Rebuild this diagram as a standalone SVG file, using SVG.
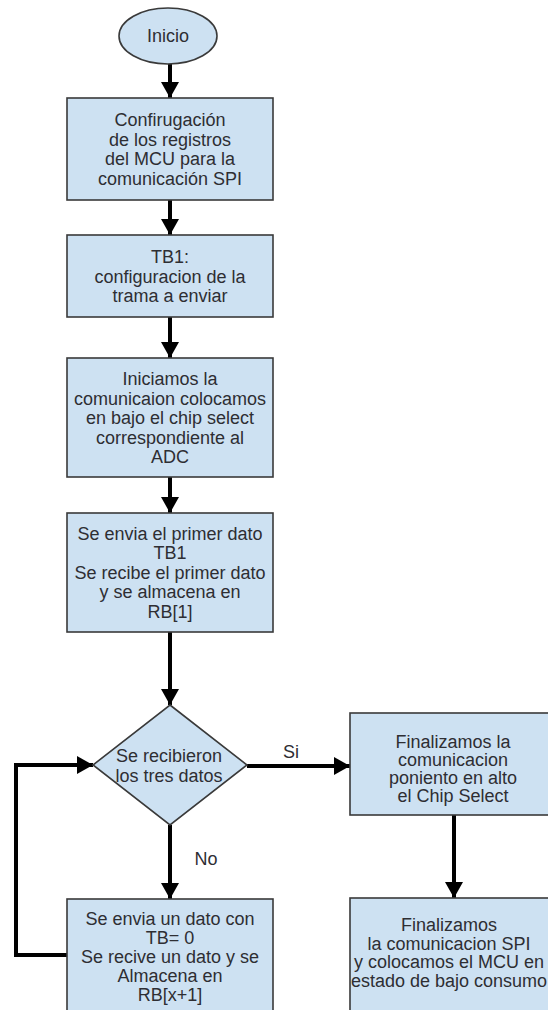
<svg xmlns="http://www.w3.org/2000/svg" width="548" height="1010" viewBox="0 0 548 1010">
<style>
.shape{fill:#cde1f2;stroke:#3a3a3a;stroke-width:1.6}
.t{font-family:"Liberation Sans",Arial,sans-serif;font-size:18px;fill:#2e2e33;text-anchor:middle;dominant-baseline:central}
.c{fill:none;stroke:#000;stroke-width:4}
</style>
<defs>
<marker id="ah" markerUnits="userSpaceOnUse" markerWidth="18" markerHeight="18" refX="16" refY="9" orient="auto">
<path d="M0,0 L16,9 L0,18 Z" fill="#000"/>
</marker>
</defs>
<rect width="548" height="1010" fill="#fff"/>
<g id="connectors">
<line class="c" x1="170" y1="64" x2="170" y2="98" marker-end="url(#ah)"/>
<line class="c" x1="170" y1="200" x2="170" y2="235" marker-end="url(#ah)"/>
<line class="c" x1="170" y1="317" x2="170" y2="358" marker-end="url(#ah)"/>
<line class="c" x1="170" y1="477" x2="170" y2="513" marker-end="url(#ah)"/>
<line class="c" x1="170" y1="632" x2="170" y2="705" marker-end="url(#ah)"/>
<line class="c" x1="170" y1="825" x2="170" y2="899" marker-end="url(#ah)"/>
<line class="c" x1="247" y1="766" x2="350" y2="766" marker-end="url(#ah)"/>
<line class="c" x1="454" y1="815" x2="454" y2="898" marker-end="url(#ah)"/>
<polyline class="c" points="67,955 16,955 16,765 93,765" marker-end="url(#ah)"/>
<text class="t" x="291" y="752">Si</text>
<text class="t" x="206" y="859">No</text>
</g>
<g id="inicio">
<ellipse class="shape" cx="168" cy="36" rx="49" ry="28"/>
<text class="t" x="168" y="36">Inicio</text>
</g>
<g id="config-registros">
<rect class="shape" x="67" y="98" width="206" height="102"/>
<text class="t" x="170" y="120">Confirugación</text>
<text class="t" x="170" y="139.5">de los registros</text>
<text class="t" x="170" y="159">del MCU para la</text>
<text class="t" x="170" y="178.5">comunicación SPI</text>
</g>
<g id="tb1">
<rect class="shape" x="67" y="235" width="206" height="82"/>
<text class="t" x="170" y="257">TB1:</text>
<text class="t" x="170" y="276.5">configuracion de la</text>
<text class="t" x="170" y="296">trama a enviar</text>
</g>
<g id="iniciamos">
<rect class="shape" x="67" y="358" width="206" height="119"/>
<text class="t" x="170" y="379">Iniciamos la</text>
<text class="t" x="170" y="398.5">comunicaion colocamos</text>
<text class="t" x="170" y="418">en bajo el chip select</text>
<text class="t" x="170" y="437.5">correspondiente al</text>
<text class="t" x="170" y="457">ADC</text>
</g>
<g id="primer-dato">
<rect class="shape" x="67" y="513" width="206" height="119"/>
<text class="t" x="170" y="533.5">Se envia el primer dato</text>
<text class="t" x="170" y="553">TB1</text>
<text class="t" x="170" y="572.5">Se recibe el primer dato</text>
<text class="t" x="170" y="592">y se almacena en</text>
<text class="t" x="170" y="611.5">RB[1]</text>
</g>
<g id="decision">
<polygon class="shape" points="170,705 247,765 170,825 93,765"/>
<text class="t" x="169" y="756">Se recibieron</text>
<text class="t" x="169" y="775.5">los tres datos</text>
</g>
<g id="finalizamos-cs">
<rect class="shape" x="350" y="713" width="206" height="102"/>
<text class="t" x="453" y="742">Finalizamos la</text>
<text class="t" x="453" y="760">comunicacion</text>
<text class="t" x="453" y="778">poniento en alto</text>
<text class="t" x="453" y="796">el Chip Select</text>
</g>
<g id="envia-dato">
<rect class="shape" x="67" y="899" width="206" height="120"/>
<text class="t" x="170" y="918.5">Se envia un dato con</text>
<text class="t" x="170" y="937.5">TB= 0</text>
<text class="t" x="170" y="957">Se recive un dato y se</text>
<text class="t" x="170" y="976">Almacena en</text>
<text class="t" x="170" y="995">RB[x+1]</text>
</g>
<g id="finalizamos-spi">
<rect class="shape" x="350" y="898" width="206" height="120"/>
<text class="t" x="449" y="925">Finalizamos</text>
<text class="t" x="449" y="943.5">la comunicacion SPI</text>
<text class="t" x="449" y="962">y colocamos el MCU en</text>
<text class="t" x="449" y="980.5">estado de bajo consumo</text>
</g>
</svg>
